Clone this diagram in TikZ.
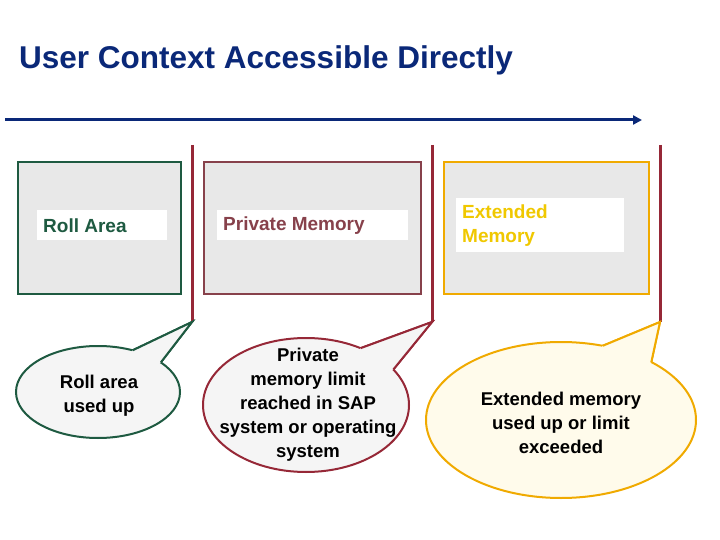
\documentclass[tikz,border=0pt]{standalone}
\usepackage{fontspec}
\setmainfont{Liberation Sans}
\usetikzlibrary{arrows.meta,calc}
\definecolor{tblue}{RGB}{10,40,120}
\definecolor{cgreen}{RGB}{30,90,65}
\definecolor{cred}{RGB}{150,40,55}
\definecolor{cpriv}{RGB}{135,65,75}
\definecolor{corange}{RGB}{240,170,0}
\definecolor{cyel}{RGB}{240,200,0}
\definecolor{boxgray}{RGB}{232,232,232}
\definecolor{calloutfill}{RGB}{245,245,245}
\definecolor{callyel}{RGB}{255,251,235}
\tikzset{
  areabox/.style={draw, line width=2pt, fill=boxgray},
  lab/.style={fill=white, font=\fontsize{19}{24}\selectfont\bfseries, anchor=west, inner sep=0pt},
  sep/.style={draw=cred, line width=3pt},
  ctext/.style={font=\fontsize{18.5}{24}\selectfont\bfseries, align=center}
}
\newcommand{\mycallout}[9]{% name,cx,cy,rx,ry,a1,a2,tip,colour/fill
  \coordinate (#1c) at (#2,#3);
  \coordinate (#1p) at ($(#1c)+(#6:#4 and #5)$);
  \coordinate (#1q) at ($(#1c)+(#7:#4 and #5)$);
  \filldraw[#9, line width=2pt] (#1p) -- #8 -- (#1q) -- cycle;
  \filldraw[#9, line width=2pt] (#1c) ellipse [x radius=#4, y radius=#5];
  \fill[#9,draw=none] (#1c) -- (#1p) -- #8 -- (#1q) -- cycle;
  \draw[#9, fill=none, line width=2pt, line join=miter] (#1p) -- #8 -- (#1q);
}
\begin{document}
\begin{tikzpicture}[x=1pt,y=-1pt]
\useasboundingbox[fill=white] (0,0) rectangle (720,540);
\node[anchor=west, text=tblue, font=\fontsize{31.5}{36}\selectfont\bfseries, inner sep=0pt] (title) at (19,60) {User Context Accessible Directly};
\coordinate (a0) at (5,120); \coordinate (a1) at (642,120);
\draw[tblue, line width=3pt, -{Triangle[length=9pt,width=9pt]}] (a0) -- (a1);

\node[areabox, draw=cgreen, minimum width=163pt, minimum height=132pt, anchor=north west] (roll) at (17,161) {};
\node[areabox, draw=cpriv, minimum width=217pt, minimum height=132pt, anchor=north west] (priv) at (203,161) {};
\node[areabox, draw=corange, minimum width=205pt, minimum height=132pt, anchor=north west] (ext) at (443,161) {};

\fill[white] (37,210) rectangle (167,240);
\node[lab, text=cgreen] (rolll) at (43,226) {Roll Area};
\fill[white] (217,210) rectangle (408,240);
\node[lab, text=cpriv] (privl) at (223,226) {Private Memory};
\fill[white] (456,198) rectangle (624,252);
\node[lab, text=cyel, align=left] (extl) at (462,226) {Extended\\Memory};

\coordinate (s1a) at (192,145); \coordinate (s1b) at (192,322);
\coordinate (s2a) at (432,145); \coordinate (s2b) at (432,322);
\coordinate (s3a) at (660,145); \coordinate (s3b) at (660,322);
\draw[sep] (s1a) -- (s1b);
\draw[sep] (s2a) -- (s2b);
\draw[sep] (s3a) -- (s3b);

\mycallout{ca}{98}{392}{82}{46}{-65}{-40}{(s1b)}{draw=cgreen,fill=calloutfill}
\mycallout{cb}{306}{405}{103}{67}{-58}{-32}{(s2b)}{draw=cred,fill=calloutfill}
\mycallout{cc}{561}{420}{135}{78}{-72}{-48}{(s3b)}{draw=corange,fill=callyel}

\node[ctext] (t1) at (99,396) {Roll area\\used up};
\node[ctext] (t2) at (308,405) {Private\\memory limit\\reached in SAP\\system or operating\\system};
\node[ctext] (t3) at (561,423) {Extended memory\\used up or limit\\exceeded};
\end{tikzpicture}
\end{document}
